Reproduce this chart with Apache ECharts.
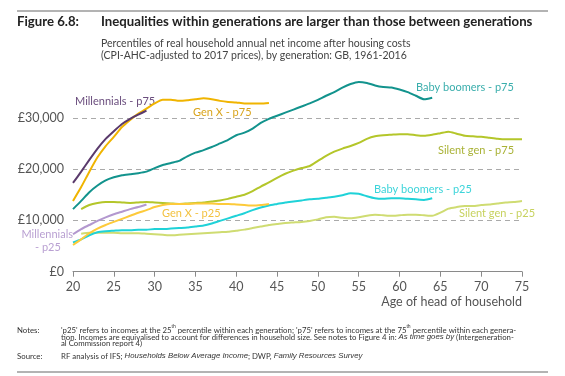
<!DOCTYPE html>
<html><head><meta charset="utf-8">
<script src="https://cdn.jsdelivr.net/npm/echarts@6/dist/echarts.min.js"></script>
<style>html,body{margin:0;padding:0;background:#fff}#c{width:565px;height:376px}</style>
</head><body><div id="c"></div>
<script>
const ageAxis = [20,21,22,23,24,25,26,27,28,29,30,31,32,33,34,35,36,37,38,39,40,41,42,43,44,45,46,47,48,49,50,51,52,53,54,55,56,57,58,59,60,61,62,63,64,65,66,67,68,69,70,71,72,73,74,75];
const xTicks = [20,25,30,35,40,45,50,55,60,65,70,75];
const yTicks = [0,10000,20000,30000];

const millennialsStart = 20;
const millennialsP75 = [17300,19500,21800,24000,25900,27400,28800,29800,30600,31400];
const millennialsP25 = [7300,8300,9100,9900,10600,11200,11700,12200,12600,13100];

const genXStart = 20;
const genXP75 = [13800,16500,19500,22300,24500,26300,28200,29600,30800,31800,32800,33500,33500,33300,33400,33600,33800,33600,33300,33100,33000,32800,32800,32800,32900];
const genXP25 = [5200,6300,7500,8400,9100,9700,10300,10900,11500,12000,12600,13000,13200,13200,13200,13300,13300,13300,13200,13200,13100,13000,12900,13000,13200];

const boomersStart = 20;
const boomersP75 = [12200,13800,15500,16800,17800,18400,18800,19000,19200,19500,20200,20800,21200,21600,22500,23200,23700,24300,25000,25700,26600,27100,27900,29000,29800,30400,31000,31600,32200,32800,33500,34300,35000,35900,36600,37000,36800,36300,36000,35900,35500,35000,34300,33600,33900];
const boomersP25 = [5700,6300,7100,7700,7900,8000,8100,8100,8200,8200,8300,8300,8400,8500,8600,8800,9000,9400,9900,10400,10900,11400,12000,12500,12900,13200,13500,13700,13900,14100,14200,14400,14600,14900,15300,15200,14700,14300,14200,14300,14300,14200,14100,14000,14300];

const silentStart = 21;
const silentP75 = [12200,13000,13400,13600,13600,13500,13400,13500,13600,13500,13400,13300,13200,13300,13400,13500,13700,13900,14200,14600,15000,15700,16600,17400,18300,19100,19700,20200,20600,21600,22600,23400,24000,24500,25100,25900,26400,26600,26700,26800,26800,26600,26500,26700,27000,27300,26900,26500,26400,26300,26100,25900,25800,25800,25800];
const silentP25 = [7400,7600,7600,7600,7600,7500,7500,7500,7400,7300,7200,7100,7200,7300,7400,7500,7600,7700,7800,8000,8200,8500,8800,9100,9300,9500,9600,9700,9900,10200,10600,10700,10500,10400,10600,10900,11100,11000,10900,11000,11100,11100,11000,10900,11500,12300,12600,12800,12800,13000,13100,13300,13500,13600,13800];

function pairs(start, vals){
  const i0 = ageAxis.indexOf(start);
  return vals.map((v,i)=>[ageAxis[i0+i], v]);
}

const FONT = 'Lato, "Open Sans", sans-serif';
const chart = echarts.init(document.getElementById('c'), null, {renderer:'canvas'});

function line(name, start, vals, color, z){
  return {name, type:'line', data:pairs(start, vals), symbol:'none', smooth:0.2,
    lineStyle:{color, width:2}, z: z||2, animation:false};
}
function label(text, x, y, color, align){
  return {type:'text', x, y, style:{text, fill:color, font:'11px '+FONT, textAlign:align||'left', textVerticalAlign:'middle'}};
}
const NF = '7.8px '+FONT;

chart.setOption({
  animation:false,
  grid:{left:73, right:43, top:66.5, bottom:104.3},
  xAxis:{type:'value', min:20, max:75, interval:5,
    axisLine:{lineStyle:{color:'#8a8a8a', width:1}},
    axisTick:{length:5, lineStyle:{color:'#8a8a8a'}},
    axisLabel:{color:'#555', fontSize:12.5, fontFamily:FONT, margin:9,
      formatter:v=> xTicks.includes(v)? String(v):''},
    splitLine:{show:false}},
  yAxis:{type:'value', min:0, max:40000, interval:10000,
    axisLine:{show:false}, axisTick:{show:false},
    axisLabel:{color:'#555', fontSize:12.5, fontFamily:FONT, margin:9, showMaxLabel:false,
      formatter:v=> yTicks.includes(v)? '£'+v.toLocaleString('en-GB'):''},
    splitLine:{show:true, showMinLine:false, showMaxLine:false, lineStyle:{color:'#aaa', type:[5,4], width:1}}},
  series:[
    line('Silent gen - p25', silentStart, silentP25, '#cfdc72'),
    line('Silent gen - p75', silentStart, silentP75, '#b4c62a'),
    line('Baby boomers - p25', boomersStart, boomersP25, '#1fd2d8'),
    line('Baby boomers - p75', boomersStart, boomersP75, '#12938d'),
    line('Gen X - p25', genXStart, genXP25, '#fdca3a'),
    line('Gen X - p75', genXStart, genXP75, '#f0b400'),
    line('Millennials - p25', millennialsStart, millennialsP25, '#b398cf'),
    line('Millennials - p75', millennialsStart, millennialsP75, '#5a3a6c', 3)
  ],
  graphic:[
    {type:'line', shape:{x1:17,y1:11,x2:548,y2:11}, style:{stroke:'#9a9a9a', lineWidth:1.5}},
    {type:'line', shape:{x1:17,y1:372,x2:548,y2:372}, style:{stroke:'#9a9a9a', lineWidth:1.5}},
    {type:'text', x:17, y:22, style:{text:'Figure 6.8:', fill:'#222', font:'bold 13.2px '+FONT, textVerticalAlign:'middle'}},
    {type:'text', x:101, y:22, style:{text:'Inequalities within generations are larger than those between generations', fill:'#222', font:'bold 13.2px '+FONT, textVerticalAlign:'middle'}},
    {type:'text', x:101, y:44, style:{text:'Percentiles of real household annual net income after housing costs', fill:'#444', font:'10.5px '+FONT, textVerticalAlign:'middle'}},
    {type:'text', x:101, y:56, style:{text:'(CPI-AHC-adjusted to 2017 prices), by generation: GB, 1961-2016', fill:'#444', font:'10.5px '+FONT, textVerticalAlign:'middle'}},
    {type:'text', x:522, y:302, style:{text:'Age of head of household', fill:'#555', font:'12.5px '+FONT, textAlign:'right', textVerticalAlign:'middle'}},
    label('Millennials - p75', 75, 101, '#6a4d7d'),
    label('Gen X - p75', 193, 112, '#d9a41c'),
    label('Baby boomers - p75', 416, 87, '#3aaeac'),
    label('Silent gen - p75', 438, 150, '#a9b236'),
    label('Baby boomers - p25', 374, 189, '#3cd4da'),
    label('Silent gen - p25', 459, 213, '#c7d25e'),
    label('Gen X - p25', 162, 213, '#f3c240'),
    label('Millennials', 73, 234, '#b9a0d2', 'right'),
    label('- p25', 35, 247, '#b9a0d2'),
    {type:'text', x:17, y:330, style:{text:'Notes:', fill:'#333', font:NF, textVerticalAlign:'middle'}},
    {type:'text', x:61, y:330, style:{text:"'p25' refers to incomes at the 25{s|th} percentile within each generation; 'p75' refers to incomes at the 75{s|th} percentile within each genera-", fill:'#333', font:NF, textVerticalAlign:'middle', rich:{s:{fontSize:5, fill:'#333', verticalAlign:'top', lineHeight:12}}}},
    {type:'text', x:61, y:337, style:{text:'tion. Incomes are equivalised to account for differences in household size. See notes to Figure 4 in: {i|As time goes by} (Intergeneration-', fill:'#333', font:NF, textVerticalAlign:'middle', rich:{i:{fontStyle:'italic', fontSize:7.8, fill:'#333'}}}},
    {type:'text', x:61, y:343, style:{text:'al Commission report 4)', fill:'#333', font:NF, textVerticalAlign:'middle'}},
    {type:'text', x:17, y:356, style:{text:'Source:', fill:'#333', font:NF, textVerticalAlign:'middle'}},
    {type:'text', x:61, y:356, style:{text:'RF analysis of IFS; {i|Households Below Average Income}; DWP, {i|Family Resources Survey}', fill:'#333', font:NF, textVerticalAlign:'middle', rich:{i:{fontStyle:'italic', fontSize:7.8, fill:'#333'}}}}
  ]
});
</script></body></html>
